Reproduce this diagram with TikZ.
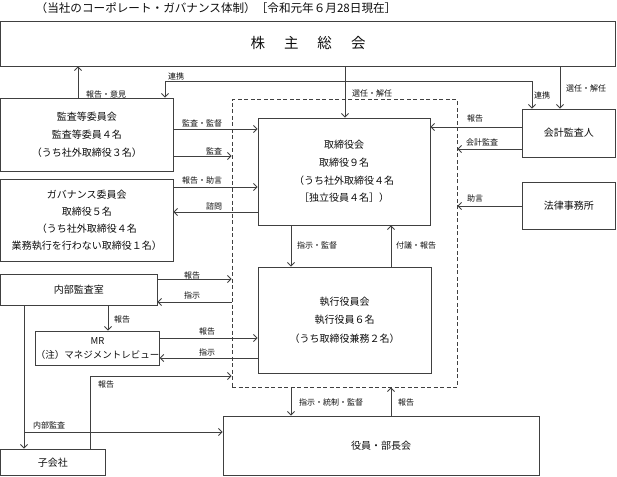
\documentclass[tikz,border=0pt]{standalone}
\usepackage{fontspec}
\setmainfont{Noto Sans CJK JP}
\usetikzlibrary{arrows.meta,calc}
\definecolor{ln}{gray}{0.25}
\definecolor{tx}{gray}{0.05}
\begin{document}
\begin{tikzpicture}[x=1pt,y=-1pt,
  box/.style={draw=ln, line width=0.9pt, inner sep=0pt, align=center, text=tx,
    font=\fontsize{10}{18}\selectfont},
  dbox/.style={draw=ln, line width=0.8pt, dash pattern=on 4pt off 2.5pt, inner sep=0pt},
  arr/.style={draw=ln, line width=0.9pt, -{Straight Barb[length=3.5pt,width=7pt]}},
  darr/.style={draw=ln, line width=0.9pt, {Straight Barb[length=3.5pt,width=7pt]}-{Straight Barb[length=3.5pt,width=7pt]}},
  lbl/.style={font=\fontsize{8}{8}\selectfont, inner sep=0pt, text=tx},
  ]
\useasboundingbox (0,0) rectangle (617,476);

% title
\node[font=\fontsize{11.6}{11.6}\selectfont, inner sep=0pt, text=tx] (title) at (216,8)
  {（当社のコーポレート・ガバナンス体制）［令和元年６月28日現在］};

% boxes
\node[box, minimum width=615pt, minimum height=45pt, font=\fontsize{14.5}{14.5}\selectfont] (soukai) at (308,43.5)
  {株\hspace{19pt}主\hspace{19pt}総\hspace{19pt}会};
\node[box, minimum width=172.5pt, minimum height=73pt] (kansa) at (86.75,134.5)
  {監査等委員会\\監査等委員４名\\（うち社外取締役３名）};
\node[box, minimum width=172.5pt, minimum height=82pt, font=\fontsize{10}{17}\selectfont] (gov) at (86.75,220)
  {ガバナンス委員会\\取締役５名\\（うち社外取締役４名\\業務執行を行わない取締役１名）};
\node[dbox, minimum width=225pt, minimum height=287.5pt] (dash) at (344.5,243.25) {};
\node[box, minimum width=172pt, minimum height=107pt, font=\fontsize{10}{17.7}\selectfont] (torishimari) at (344,171.5)
  {取締役会\\取締役９名\\（うち社外取締役４名\\［独立役員４名］）};
\node[box, minimum width=173pt, minimum height=106pt, font=\fontsize{10}{18.5}\selectfont] (shikko) at (344.5,320)
  {執行役員会\\執行役員６名\\（うち取締役兼務２名）};
\node[box, minimum width=316pt, minimum height=59.5pt] (yakuin) at (381,445.75) {役員・部長会};
\node[box, minimum width=93.5pt, minimum height=48pt] (kaikei) at (568.75,133) {会計監査人};
\node[box, minimum width=93.5pt, minimum height=47pt] (houritsu) at (568.75,205.5) {法律事務所};
\node[box, minimum width=156.5pt, minimum height=31pt] (naibu) at (78.75,289.5) {内部監査室};
\node[box, minimum width=119pt, minimum height=34pt, font=\fontsize{9.5}{14}\selectfont] (mr) at (97.5,348)
  {MR\\（注）マネジメントレビュー};
\node[box, minimum width=104.5pt, minimum height=26.5pt] (kogaisha) at (52.75,462.25) {子会社};

% connectors
\draw[arr] (kansa.north -| 78,0) -- (soukai.south -| 78,0);
\draw[darr] (kansa.north -| 165,0) -- ++(0,-16) -| (kaikei.north -| 532,0);
\draw[arr] (soukai.south -| 345,0) -- (torishimari.north -| 345,0);
\draw[arr] (soukai.south -| 560,0) -- (kaikei.north -| 560,0);
\draw[arr] (kansa.east |- 0,129) -- (torishimari.west |- 0,129);
\draw[arr] (kansa.east |- 0,156) -- (dash.west |- 0,156);
\draw[arr] (gov.east |- 0,187) -- (torishimari.west |- 0,187);
\draw[arr] (torishimari.west |- 0,212) -- (gov.east |- 0,212);
\draw[arr] (kaikei.west |- 0,127) -- (torishimari.east |- 0,127);
\draw[arr] (kaikei.west |- 0,149) -- (dash.east |- 0,149);
\draw[arr] (houritsu.west |- 0,206) -- (dash.east |- 0,206);
\draw[arr] (torishimari.south -| 291,0) -- (shikko.north -| 291,0);
\draw[arr] (shikko.north -| 391,0) -- (torishimari.south -| 391,0);
\draw[arr] (naibu.east |- 0,279) -- (dash.west |- 0,279);
\draw[arr] (dash.west |- 0,302) -- (naibu.east |- 0,302);
\draw[arr] (naibu.south -| 108,0) -- (mr.north -| 108,0);
\draw[arr] (mr.east |- 0,338) -- (shikko.west |- 0,338);
\draw[arr] (shikko.west |- 0,358) -- (mr.east |- 0,358);
\draw[arr] (naibu.south -| 24,0) -- (kogaisha.north -| 24,0);
\coordinate (br) at (24,432);
\draw[arr] (br) -- (yakuin.west |- br);
\draw[arr] (kogaisha.north -| 90,0) |- (dash.west |- 0,376);
\draw[arr] (dash.south -| 291,0) -- (yakuin.north -| 291,0);
\draw[arr] (yakuin.north -| 391,0) -- (dash.south -| 391,0);

% labels
\node[lbl] (l1) at (106,94) {報告・意見};
\node[lbl] (l2) at (176,76) {連携};
\node[lbl] (l3) at (372,93) {選任・解任};
\node[lbl] (l4) at (542,95) {連携};
\node[lbl] (l5) at (586,88) {選任・解任};
\node[lbl] (l6) at (202,123) {監査・監督};
\node[lbl] (l7) at (214,151) {監査};
\node[lbl] (l8) at (202,180) {報告・助言};
\node[lbl] (l9) at (214,206) {諮問};
\node[lbl] (l10) at (475,118) {報告};
\node[lbl] (l11) at (482,142) {会計監査};
\node[lbl] (l12) at (475,198) {助言};
\node[lbl] (l13) at (317,245) {指示・監督};
\node[lbl] (l14) at (416,245) {付議・報告};
\node[lbl] (l15) at (192,275) {報告};
\node[lbl] (l16) at (192,295) {指示};
\node[lbl] (l17) at (122,319) {報告};
\node[lbl] (l18) at (207,331) {報告};
\node[lbl] (l19) at (207,352) {指示};
\node[lbl] (l20) at (106,384) {報告};
\node[lbl] (l21) at (49,425) {内部監査};
\node[lbl] (l22) at (331,402) {指示・統制・監督};
\node[lbl] (l23) at (406,402) {報告};
\end{tikzpicture}
\end{document}
